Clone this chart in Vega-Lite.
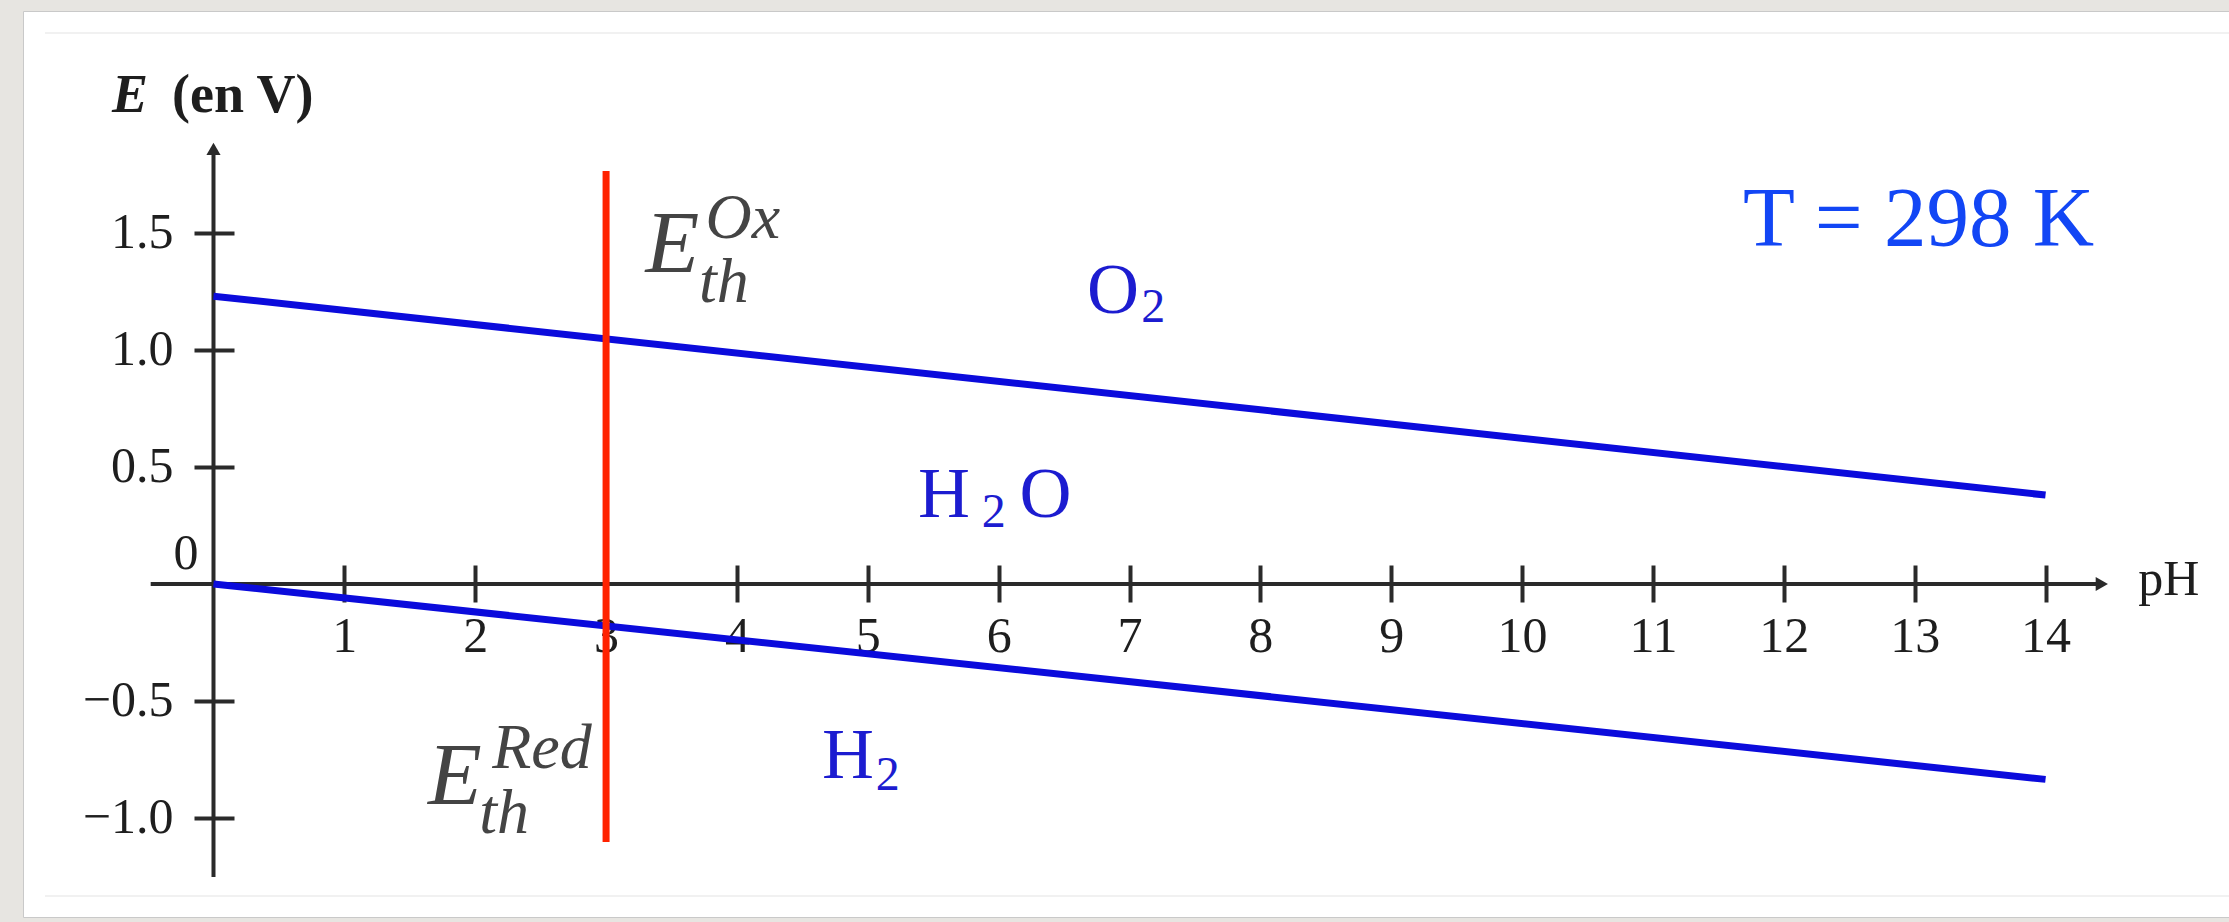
{
  "$schema": "https://vega.github.io/schema/vega-lite/v6.json",
  "width": 2206,
  "height": 906,
  "autosize": {"type": "none"},
  "padding": {"left": 23, "top": 11, "right": 0, "bottom": 5},
  "background": "#e7e5e1",
  "config": {
    "view": {"fill": "#ffffff", "stroke": "#c9c9c9", "strokeWidth": 1},
    "text": {"font": "Liberation Serif"}
  },
  "datasets": {
    "frame": [
      {"ph": -1.288, "E": 2.355, "ph2": 15.402, "E2": 2.355},
      {"ph": -1.288, "E": -1.333, "ph2": 15.402, "E2": -1.333}
    ],
    "axislines": [
      {"ph": -0.48, "E": 0, "ph2": 14.4, "E2": 0},
      {"ph": 0, "E": -1.252, "ph2": 0, "E2": 1.84}
    ],
    "arrows": [
      {"ph": 14.43, "E": 0, "dir": "right"},
      {"ph": 0, "E": 1.86, "dir": "up"}
    ],
    "lines": [
      {"ph": 0, "E": 1.23, "couple": "O2/H2O"},
      {"ph": 14, "E": 0.38, "couple": "O2/H2O"},
      {"ph": 0, "E": 0, "couple": "H2O/H2"},
      {"ph": 14, "E": -0.835, "couple": "H2O/H2"}
    ],
    "redline": [
      {"ph": 3, "E": -1.103, "ph2": 3, "E2": 1.765}
    ],
    "speciesMain": [
      {"ph": 6.675, "E": 1.158, "t": "O"},
      {"ph": 5.384, "E": 0.286, "t": "H"},
      {"ph": 6.16, "E": 0.286, "t": "O"},
      {"ph": 4.65, "E": -0.829, "t": "H"}
    ],
    "speciesSub": [
      {"ph": 7.09, "E": 1.12, "t": "2"},
      {"ph": 5.87, "E": 0.2436, "t": "2"},
      {"ph": 5.06, "E": -0.88, "t": "2"}
    ],
    "temp": [
      {"ph": 13.03, "E": 1.444, "t": "T = 298 K"}
    ],
    "ytitleE": [
      {"ph": -0.776, "E": 2.017, "t": "E"}
    ],
    "ytitleRest": [
      {"ph": -0.317, "E": 2.017, "t": "(en V)"}
    ],
    "xtitle": [
      {"ph": 14.708, "E": -0.047, "t": "pH"}
    ],
    "zero": [
      {"ph": -0.21, "E": 0.064, "t": "0"}
    ],
    "ethMain": [
      {"ph": 3.301, "E": 1.333, "t": "E"},
      {"ph": 1.639, "E": -0.94, "t": "E"}
    ],
    "ethSmall": [
      {"ph": 3.76, "E": 1.48, "t": "Ox"},
      {"ph": 3.71, "E": 1.205, "t": "th"},
      {"ph": 2.13, "E": -0.785, "t": "Red"},
      {"ph": 2.03, "E": -1.065, "t": "th"}
    ]
  },
  "encoding": {
    "x": {
      "field": "ph",
      "type": "quantitative",
      "scale": {"domain": [-1.4557, 15.402], "nice": false, "zero": false},
      "axis": {
        "values": [1, 2, 3, 4, 5, 6, 7, 8, 9, 10, 11, 12, 13, 14],
        "orient": "bottom",
        "offset": -352,
        "domain": false,
        "grid": false,
        "tickSize": 37,
        "tickWidth": 4,
        "tickColor": "#2a2a2a",
        "labelFont": "Liberation Serif",
        "labelFontSize": 50,
        "labelColor": "#1e1e1e",
        "labelPadding": 9,
        "labelFlush": false,
        "labelOverlap": false,
        "title": null,
        "zindex": 0
      }
    },
    "y": {
      "field": "E",
      "type": "quantitative",
      "scale": {"domain": [-1.4231, 2.4487], "nice": false, "zero": false},
      "axis": {
        "values": [-1, -0.5, 0.5, 1, 1.5],
        "format": ".1f",
        "orient": "left",
        "offset": -211,
        "domain": false,
        "grid": false,
        "tickSize": 40,
        "tickWidth": 4,
        "tickColor": "#2a2a2a",
        "labelFont": "Liberation Serif",
        "labelFontSize": 50,
        "labelColor": "#1e1e1e",
        "labelPadding": 21,
        "labelFlush": false,
        "labelOverlap": false,
        "title": null,
        "zindex": 0
      }
    }
  },
  "layer": [
    {
      "data": {"name": "frame"},
      "mark": {"type": "rule", "color": "#ececec", "strokeWidth": 1.5},
      "encoding": {"x2": {"field": "ph2"}, "y2": {"field": "E2"}}
    },
    {
      "data": {"name": "axislines"},
      "mark": {"type": "rule", "color": "#2a2a2a", "strokeWidth": 4},
      "encoding": {"x2": {"field": "ph2"}, "y2": {"field": "E2"}}
    },
    {
      "data": {"name": "arrows"},
      "mark": {"type": "point", "filled": true, "color": "#2a2a2a", "size": 200, "opacity": 1},
      "encoding": {
        "shape": {
          "field": "dir",
          "type": "nominal",
          "scale": {"domain": ["right", "up"], "range": ["triangle-right", "triangle-up"]},
          "legend": null
        }
      }
    },
    {
      "data": {"name": "lines"},
      "mark": {"type": "line", "color": "#0b0bdc", "strokeWidth": 7, "strokeCap": "butt"},
      "encoding": {"detail": {"field": "couple", "type": "nominal"}}
    },
    {
      "data": {"name": "redline"},
      "mark": {"type": "rule", "color": "#ff2200", "strokeWidth": 7},
      "encoding": {"x2": {"field": "ph2"}, "y2": {"field": "E2"}}
    },
    {
      "data": {"name": "speciesMain"},
      "mark": {"type": "text", "fontSize": 72, "color": "#1c1cd0", "align": "left", "baseline": "alphabetic"},
      "encoding": {"text": {"field": "t", "type": "nominal"}}
    },
    {
      "data": {"name": "speciesSub"},
      "mark": {"type": "text", "fontSize": 48, "color": "#1c1cd0", "align": "left", "baseline": "alphabetic"},
      "encoding": {"text": {"field": "t", "type": "nominal"}}
    },
    {
      "data": {"name": "temp"},
      "mark": {"type": "text", "fontSize": 85, "color": "#1246f5", "align": "center", "baseline": "alphabetic"},
      "encoding": {"text": {"field": "t", "type": "nominal"}}
    },
    {
      "data": {"name": "ytitleE"},
      "mark": {"type": "text", "fontSize": 54, "fontStyle": "italic", "fontWeight": "bold", "color": "#1e1e1e", "align": "left", "baseline": "alphabetic"},
      "encoding": {"text": {"field": "t", "type": "nominal"}}
    },
    {
      "data": {"name": "ytitleRest"},
      "mark": {"type": "text", "fontSize": 54, "fontWeight": "bold", "color": "#1e1e1e", "align": "left", "baseline": "alphabetic"},
      "encoding": {"text": {"field": "t", "type": "nominal"}}
    },
    {
      "data": {"name": "xtitle"},
      "mark": {"type": "text", "fontSize": 50, "color": "#1e1e1e", "align": "left", "baseline": "alphabetic"},
      "encoding": {"text": {"field": "t", "type": "nominal"}}
    },
    {
      "data": {"name": "zero"},
      "mark": {"type": "text", "fontSize": 50, "color": "#1e1e1e", "align": "center", "baseline": "alphabetic"},
      "encoding": {"text": {"field": "t", "type": "nominal"}}
    },
    {
      "data": {"name": "ethMain"},
      "mark": {"type": "text", "fontSize": 88, "fontStyle": "italic", "color": "#444444", "align": "left", "baseline": "alphabetic"},
      "encoding": {"text": {"field": "t", "type": "nominal"}}
    },
    {
      "data": {"name": "ethSmall"},
      "mark": {"type": "text", "fontSize": 64, "fontStyle": "italic", "color": "#444444", "align": "left", "baseline": "alphabetic"},
      "encoding": {"text": {"field": "t", "type": "nominal"}}
    }
  ]
}
